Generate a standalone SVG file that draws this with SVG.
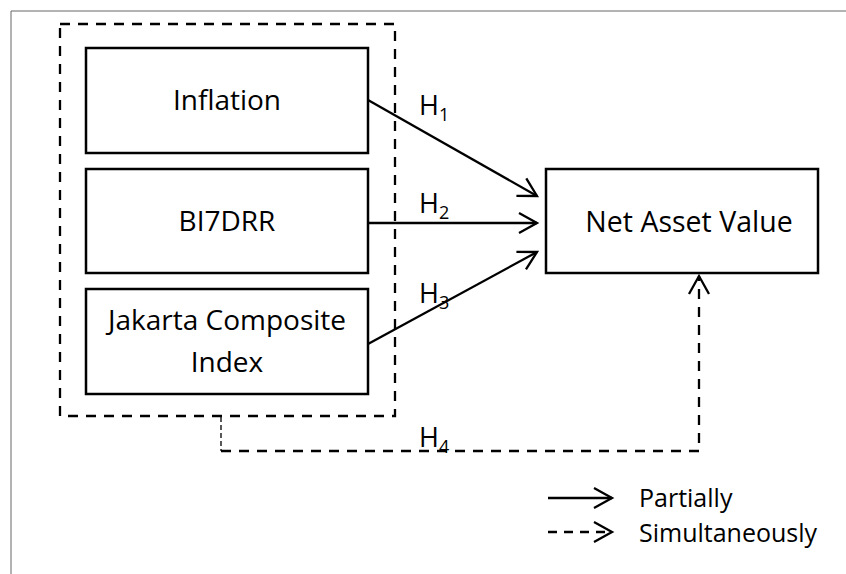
<svg xmlns="http://www.w3.org/2000/svg" width="846" height="574" viewBox="0 0 846 574">
<style>
.box{fill:#fff;stroke:#000;stroke-width:2.5}
.lbl{font-family:"Open Sans","Liberation Sans",sans-serif;font-size:28px;fill:#000;text-anchor:middle}
.h{font-family:"Open Sans","Liberation Sans",sans-serif;font-size:27px;fill:#000}
.sub{font-size:18px}
.leg{font-family:"Open Sans","Liberation Sans",sans-serif;font-size:25px;fill:#000}
.solid{fill:none;stroke:#000;stroke-width:2.3}
.dash{fill:none;stroke:#000;stroke-width:2.3;stroke-dasharray:10 8}
</style>
<defs>
<marker id="arr" markerUnits="userSpaceOnUse" markerWidth="24" markerHeight="24" viewBox="0 0 24 24" refX="21" refY="12" orient="auto">
<path d="M3,2 L21,12 L3,22" fill="none" stroke="#000" stroke-width="2.3" stroke-dasharray="none"/>
</marker>
</defs>
<rect width="846" height="574" fill="#fff"/>
<path d="M11,574 L11,11 L846,11" fill="none" stroke="#666" stroke-width="1"/>
<g id="group-box">
<rect x="60" y="24" width="335" height="392" class="dash"/>
</g>
<g id="inflation">
<rect x="86" y="48" width="282" height="105" class="box"/>
<text x="227" y="110" class="lbl">Inflation</text>
</g>
<g id="bi7drr">
<rect x="86" y="169" width="282" height="104" class="box"/>
<text x="227" y="231" class="lbl">BI7DRR</text>
</g>
<g id="jci">
<rect x="86" y="289" width="282" height="105" class="box"/>
<text x="227" y="330" class="lbl">Jakarta Composite</text>
<text x="227" y="372" class="lbl">Index</text>
</g>
<g id="nav">
<rect x="546" y="169" width="272" height="104" class="box"/>
<text x="689" y="232" class="lbl" style="font-size:28.5px">Net Asset Value</text>
</g>
<g id="connectors">
<line x1="368" y1="100" x2="537" y2="196" class="solid" marker-end="url(#arr)"/>
<line x1="368" y1="223" x2="537" y2="223" class="solid" marker-end="url(#arr)"/>
<line x1="368" y1="344" x2="537" y2="252" class="solid" marker-end="url(#arr)"/>
<line x1="221" y1="417" x2="221" y2="451" fill="none" stroke="#000" stroke-width="1.3" stroke-dasharray="5 3"/>
<path d="M221,451 L699,451 L699,276" class="dash" marker-end="url(#arr)"/>
</g>
<g id="labels">
<text x="419" y="115" class="h">H<tspan class="sub" dy="6">1</tspan></text>
<text x="419" y="213" class="h">H<tspan class="sub" dy="6">2</tspan></text>
<text x="419" y="303" class="h">H<tspan class="sub" dy="6">3</tspan></text>
<text x="419" y="447" class="h">H<tspan class="sub" dy="6">4</tspan></text>
</g>
<g id="legend">
<line x1="548" y1="498" x2="612" y2="498" class="solid" marker-end="url(#arr)"/>
<line x1="548" y1="532" x2="612" y2="532" fill="none" stroke="#000" stroke-width="2.3" stroke-dasharray="9 7" marker-end="url(#arr)"/>
<text x="639" y="507" class="leg">Partially</text>
<text x="639" y="542" class="leg">Simultaneously</text>
</g>
</svg>
